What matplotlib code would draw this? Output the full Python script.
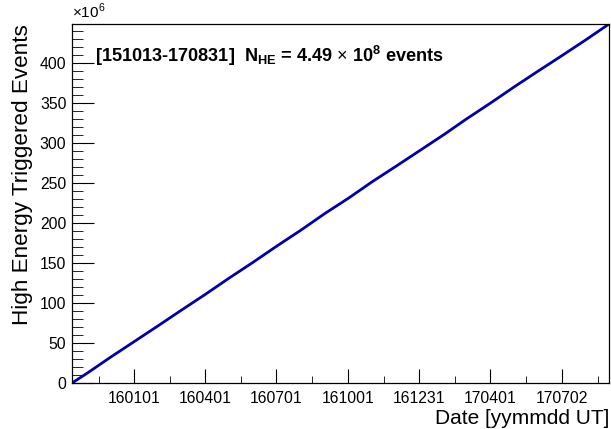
import numpy as np
import matplotlib
matplotlib.use('Agg')
import matplotlib.pyplot as plt
import matplotlib.dates as mdates
from matplotlib.ticker import MultipleLocator, FixedLocator
import datetime as dt

plt.rcParams['font.family'] = 'Liberation Sans'
plt.rcParams['mathtext.fontset'] = 'custom'
plt.rcParams['mathtext.rm'] = 'Liberation Sans'
plt.rcParams['mathtext.bf'] = 'Liberation Sans:bold'

# cumulative high energy triggers, in units of 1e6
dates = ['151013', '151101', '151201', '160101', '160201', '160301', '160401',
         '160501', '160601', '160701', '160801', '160901', '161001', '161101',
         '161201', '170101', '170201', '170301', '170401', '170501', '170601',
         '170701', '170801', '170831']
counts = [0, 12, 32, 52, 72, 91, 111, 131, 151, 171, 191, 212, 231, 252,
          271, 291, 311, 330, 350, 370, 390, 409, 429, 449]
tick_labels = ['160101', '160401', '160701', '161001', '161231', '170401', '170702']

def to_date(s):
    return dt.datetime.strptime(s, '%y%m%d')

x = mdates.date2num([to_date(d) for d in dates])
xt = mdates.date2num([to_date(d) for d in tick_labels])

fig = plt.figure(figsize=(6.11, 4.29), dpi=100)
ax = fig.add_axes([0.1178, 0.1072, 0.8789, 0.8368])
ax.plot(x, counts, color='#0000a8', lw=2)

ax.set_xlim(x[0], x[-1])
ax.set_ylim(0, 449)

ax.xaxis.set_major_locator(FixedLocator(xt))
ax.set_xticklabels(tick_labels)
minors = list((xt[:-1] + xt[1:]) / 2) + [xt[0] - 45.5, xt[-1] + 45.5]
ax.xaxis.set_minor_locator(FixedLocator(minors))
ax.yaxis.set_major_locator(MultipleLocator(50))
ax.yaxis.set_minor_locator(MultipleLocator(10))

ax.tick_params(which='both', direction='in', labelsize=11.3, top=False, right=False)
ax.tick_params(axis='x', which='major', length=10, pad=6)
ax.tick_params(axis='x', which='minor', length=5)
ax.tick_params(axis='y', which='major', length=16, pad=4)
ax.tick_params(axis='y', which='minor', length=8)
for s in ax.spines.values():
    s.set_linewidth(0.9)

ax.set_ylabel('High Energy Triggered Events', fontsize=16.2, loc='top', labelpad=5)
ax.set_xlabel('Date [yymmdd UT]', fontsize=15, loc='right', labelpad=2)

ax.text(0.0, 1.008, r'$\times$10$^{6}$', transform=ax.transAxes, fontsize=11,
        ha='left', va='bottom')
ax.text(0.043, 0.91,
        r'[151013-170831]  N$_{\mathbf{HE}}$ = 4.49 $\times$ 10$^{\mathbf{8}}$ events',
        transform=ax.transAxes, fontsize=13.1, fontweight='bold', ha='left', va='center')

fig.savefig('out.png', dpi=100)
